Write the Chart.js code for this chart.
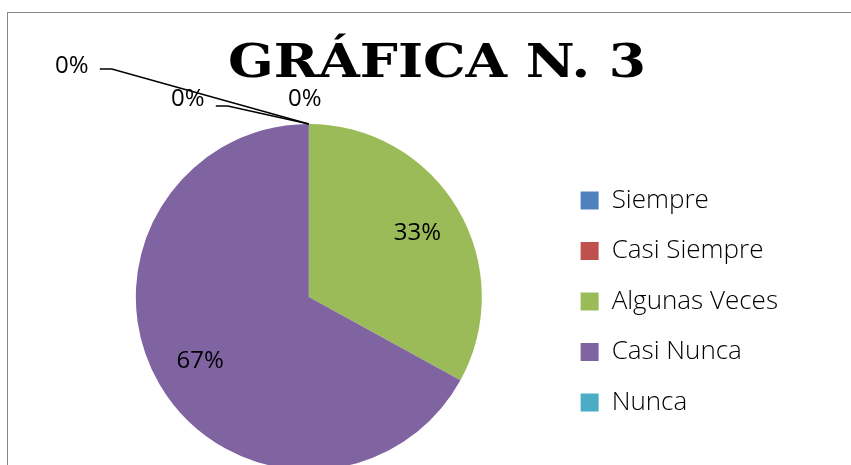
<!DOCTYPE html>
<html>
<head>
<meta charset="utf-8">
<script src="https://cdn.jsdelivr.net/npm/chart.js@4"></script>
<style>
  html, body { margin: 0; padding: 0; background: #fff; }
  body { width: 851px; height: 465px; overflow: hidden; position: relative; }
  .frame { position: absolute; left: 7px; top: 12px; width: 900px; height: 520px; border: 1px solid #868686; }
  .title { position: absolute; left: 187px; top: 33px; width: 500px; text-align: center;
           font: bold 47px "DejaVu Serif", serif; color: #000; transform: scaleX(1.14); }
  .wrap { position: absolute; left: 8px; top: 13px; width: 780px; height: 457px; }
</style>
</head>
<body>
<div class="frame"></div>
<div class="wrap"><canvas id="myChart"></canvas></div>
<div class="title">GRÁFICA N. 3</div>
<script>
const categories = ["Siempre", "Casi Siempre", "Algunas Veces", "Casi Nunca", "Nunca"];
const values = [0, 0, 33, 67, 0];
const percentLabels = ["0%", "0%", "33%", "67%", "0%"];
const colors = ["#4F81BD", "#C0504D", "#9BBB59", "#8064A2", "#4BACC6"];

const handFont = '24px "Open Sans", sans-serif';

// labels for the slices, zero slices get pulled out with a leader line
const sliceLabels = {
  id: "sliceLabels",
  afterDatasetsDraw(chart, args, opts) {
    const ctx = chart.ctx;
    const meta = chart.getDatasetMeta(0);
    ctx.save();
    ctx.font = handFont;
    ctx.fillStyle = "#000";
    ctx.strokeStyle = "#000";
    ctx.lineWidth = 1.5;
    ctx.textAlign = "center";
    ctx.textBaseline = "middle";
    meta.data.forEach((arc, i) => {
      const p = arc.getProps(["x", "y", "startAngle", "endAngle", "outerRadius"], true);
      if (values[i] > 0) {
        const mid = (p.startAngle + p.endAngle) / 2;
        const r = p.outerRadius * 0.73;
        ctx.fillText(percentLabels[i], p.x + Math.cos(mid) * r, p.y + Math.sin(mid) * r);
      } else {
        const ax = p.x + Math.cos(p.startAngle) * p.outerRadius;
        const ay = p.y + Math.sin(p.startAngle) * p.outerRadius;
        const o = opts.offsets[i];
        const tx = ax + o.dx, ty = ay + o.dy;
        ctx.fillText(percentLabels[i], tx, ty);
        if (o.leader) {
          ctx.beginPath();
          ctx.moveTo(tx + 28, ty + o.leader);
          ctx.lineTo(tx + 40, ty + o.leader);
          ctx.lineTo(ax, ay);
          ctx.stroke();
        }
      }
    });
    ctx.restore();
  }
};

const chart = new Chart(document.getElementById("myChart"), {
  type: "pie",
  data: {
    labels: categories,
    datasets: [{
      data: values,
      backgroundColor: colors,
      borderWidth: 0,
      hoverOffset: 0
    }]
  },
  options: {
    responsive: true,
    maintainAspectRatio: false,
    animation: false,
    layout: { padding: { top: 111, left: 53.5, right: 0, bottom: 0 } },
    plugins: {
      legend: {
        position: "right",
        // empty title only nudges the entries down a little
        title: { display: true, text: "", font: { size: 1, lineHeight: 1 }, padding: 4 },
        labels: {
          color: "#000",
          font: { family: '"Open Sans", sans-serif', size: 26, weight: "300" },
          boxWidth: 18,
          boxHeight: 18,
          padding: 24.5
        }
      },
      tooltip: { enabled: false },
      sliceLabels: {
        offsets: {
          0: { dx: -237, dy: -58, leader: 3 },
          1: { dx: -121, dy: -25, leader: 7 },
          4: { dx: -4, dy: -25, leader: 0 }
        }
      }
    }
  },
  plugins: [sliceLabels]
});
</script>
</body>
</html>
